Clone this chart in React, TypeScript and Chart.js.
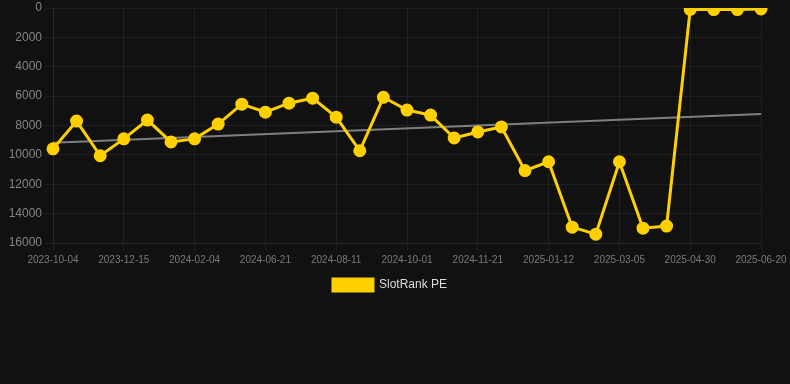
import React, { useEffect, useRef } from "react";
import { Chart, registerables } from "chart.js";

Chart.register(...registerables);

const dateLabels: string[] = [
  "2023-10-04", "2023-10-28", "2023-11-21", "2023-12-15", "2024-01-05", "2024-01-20",
  "2024-02-04", "2024-03-20", "2024-05-05", "2024-06-21", "2024-07-08", "2024-07-25",
  "2024-08-11", "2024-08-28", "2024-09-14", "2024-10-01", "2024-10-18", "2024-11-04",
  "2024-11-21", "2024-12-08", "2024-12-25", "2025-01-12", "2025-01-29", "2025-02-16",
  "2025-03-05", "2025-03-24", "2025-04-12", "2025-04-30", "2025-05-17", "2025-06-03",
  "2025-06-20",
];

const slotRankValues: number[] = [
  9590, 7700, 10060, 8910, 7630, 9115, 8910, 7900, 6550, 7090, 6480, 6140,
  7430, 9720, 6080, 6950, 7290, 8850, 8440, 8100, 11070, 10470, 14920, 15400,
  10470, 14990, 14850, 90, 110, 110, 60,
];

const trendStart = 9180;
const trendEnd = 7225;
const trendValues: (number | null)[] = dateLabels.map((_, i) =>
  i === 0 ? trendStart : i === dateLabels.length - 1 ? trendEnd : null
);

const yTicks = { min: 0, max: 16000, step: 2000 };

const FONT = "'Liberation Sans', Arial, Helvetica, sans-serif";

export default function App() {
  const canvasRef = useRef<HTMLCanvasElement | null>(null);

  useEffect(() => {
    document.body.style.margin = "0";
    document.body.style.background = "#111111";
    const canvas = canvasRef.current;
    if (!canvas) return;
    const chart = new Chart(canvas, {
      type: "line",
      data: {
        labels: dateLabels,
        datasets: [
          {
            label: "SlotRank PE",
            data: slotRankValues,
            borderColor: "#FFD000",
            backgroundColor: "#FFD000",
            pointBackgroundColor: "#FFD000",
            pointBorderColor: "#FFD000",
            pointRadius: 5,
            pointHoverRadius: 5,
            borderWidth: 3,
            tension: 0,
            order: 1,
          },
          {
            label: "trend",
            data: trendValues,
            borderColor: "rgba(140,140,140,0.9)",
            backgroundColor: "rgba(140,140,140,0.9)",
            pointRadius: 0,
            borderWidth: 2,
            spanGaps: true,
            order: 2,
          },
        ],
      },
      options: {
        animation: false,
        responsive: false,
        maintainAspectRatio: false,
        layout: { padding: { left: 0, right: 10, top: 0, bottom: 0 } },
        plugins: {
          legend: {
            position: "bottom",
            labels: {
              color: "#dddddd",
              font: { family: FONT, size: 12 },
              boxWidth: 40,
              boxHeight: 12,
              filter: (item) => item.text === "SlotRank PE",
            },
          },
          tooltip: { enabled: false },
        },
        scales: {
          x: {
            ticks: {
              autoSkip: false,
              maxRotation: 0,
              color: "#7a7a7a",
              font: { family: FONT, size: 10 },
              callback: (_v, i) => (i % 3 === 0 ? dateLabels[i] : ""),
            },
            grid: {
              color: (ctx) => (ctx.index % 3 === 0 ? "rgba(255,255,255,0.06)" : "transparent"),
            },
            border: { color: "rgba(255,255,255,0.06)" },
            afterFit: (scale: any) => {
              scale.paddingLeft = 0;
              scale.paddingRight = 29;
            },
          },
          y: {
            reverse: true,
            min: yTicks.min,
            max: yTicks.max,
            ticks: {
              stepSize: yTicks.step,
              color: "#858585",
              font: { family: FONT, size: 12 },
              callback: (v) => String(v),
            },
            grid: { color: "rgba(255,255,255,0.06)" },
            border: { color: "rgba(255,255,255,0.06)" },
            afterFit: (scale: any) => {
              scale.width = 53;
              scale.paddingTop = 6;
              scale.paddingBottom = 0;
            },
          },
        },
      },
    });
    return () => chart.destroy();
  }, []);

  return (
    <div style={{ width: 790, height: 384, background: "#111111" }}>
      <canvas ref={canvasRef} width={790} height={301} style={{ display: "block" }} />
    </div>
  );
}
